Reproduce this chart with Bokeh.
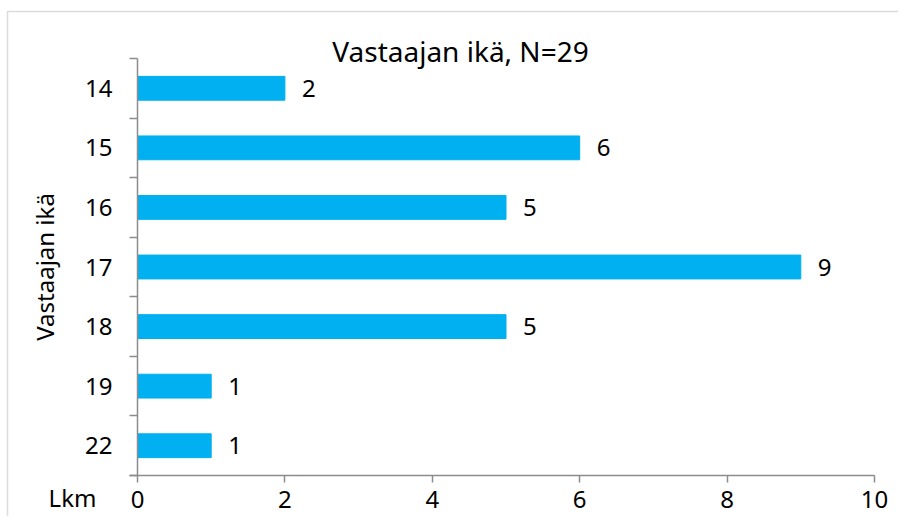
from bokeh.plotting import figure
from bokeh.models import Range1d, FixedTicker, BoxAnnotation
from bokeh.embed import file_html
from bokeh.resources import INLINE
from bokeh.core.properties import value

ages = ["14", "15", "16", "17", "18", "19", "22"]
counts = [2, 6, 5, 9, 5, 1, 1]
x_ticks = [0, 2, 4, 6, 8, 10]
title_text = "Vastaajan ikä, N=29"
y_title = "Vastaajan ikä"
x_title = "Lkm"

FONT = "Noto Sans"
FS = "24px"
AXIS_COLOR = "#8c8c8c"
BAR_COLOR = "#00B0F0"

# layout (pixels): the frame covers the whole canvas, axes sit at fixed places
W, H = 898, 516
PLOT_L, PLOT_R, PLOT_T, PLOT_B = 137, 874, 58, 475
X_MIN, X_MAX = 0, 10

n = len(ages)
pos = list(range(n))

kx = (PLOT_R - PLOT_L) / (X_MAX - X_MIN)        # px per x unit
ky = (PLOT_B - PLOT_T) / n                      # px per category
x0 = X_MIN - PLOT_L / kx
x1 = X_MAX + (W - PLOT_R) / kx
y_top = -0.5 - PLOT_T / ky
y_bot = n - 0.5 + (H - PLOT_B) / ky

def px_x(px):
    return X_MIN + (px - PLOT_L) / kx

def px_y(py):
    return -0.5 + (py - PLOT_T) / ky

p = figure(width=W, height=H, output_backend="svg", toolbar_location=None,
           x_range=Range1d(x0, x1), y_range=Range1d(y_bot, y_top),
           min_border=0)
p.outline_line_color = None
p.xgrid.grid_line_color = None
p.ygrid.grid_line_color = None
p.background_fill_color = "white"
p.border_fill_color = "white"

# chart-area border (only its top and left edges fall inside the picture)
p.add_layout(BoxAnnotation(left=px_x(7), right=x1 + 5, top=px_y(11), bottom=y_bot + 5,
                           fill_color=None, line_color=AXIS_COLOR, line_width=1.5))

p.hbar(y=pos, left=0, right=counts, height=0.4, fill_color=BAR_COLOR,
       line_color=BAR_COLOR)
p.text(x=counts, y=pos, text=[str(c) for c in counts], x_offset=17,
       text_baseline="middle", text_align="left", text_font=value(FONT),
       text_font_size=FS, text_color="black")

# y axis at x = 0
ya = p.yaxis[0]
ya.fixed_location = X_MIN
ya.bounds = (-0.5, n - 0.5)
ya.ticker = FixedTicker(ticks=pos, minor_ticks=[i - 0.5 for i in range(n + 1)])
ya.major_label_overrides = {i: a for i, a in enumerate(ages)}
ya.major_tick_out = 0
ya.major_tick_in = 0
ya.minor_tick_out = 8
ya.minor_tick_in = 0
ya.minor_tick_line_color = AXIS_COLOR
ya.minor_tick_line_width = 1.5
ya.axis_line_color = AXIS_COLOR
ya.axis_line_width = 1.5
ya.major_label_standoff = 17
ya.major_label_text_font = FONT
ya.major_label_text_font_size = FS
ya.major_label_text_color = "black"
ya.axis_label = y_title
ya.axis_label_text_font = FONT
ya.axis_label_text_font_size = FS
ya.axis_label_text_font_style = "normal"
ya.axis_label_text_color = "black"
ya.axis_label_standoff = 21

# x axis at the bottom of the category band
xa = p.xaxis[0]
xa.fixed_location = n - 0.5
xa.bounds = (px_x(PLOT_L - 8), X_MAX)
xa.ticker = FixedTicker(ticks=x_ticks, minor_ticks=[])
xa.major_tick_out = 7
xa.major_tick_in = 0
xa.major_tick_line_color = AXIS_COLOR
xa.major_tick_line_width = 1.5
xa.axis_line_color = AXIS_COLOR
xa.axis_line_width = 1.5
xa.major_label_standoff = 8
xa.major_label_text_font = FONT
xa.major_label_text_font_size = FS
xa.major_label_text_line_height = 1.0
xa.major_label_text_color = "black"

# "Lkm", level with the x tick labels
p.text(x=[px_x(72)], y=[px_y(497)], text=[x_title], text_align="center",
       text_baseline="middle", text_font=value(FONT), text_font_size=FS,
       text_color="black")

# title
p.text(x=[px_x(460)], y=[px_y(50)], text=[title_text], text_align="center",
       text_baseline="middle", text_font=value(FONT), text_font_size="28px",
       text_color="black")

open("out.html", "w").write(file_html(p, INLINE))
